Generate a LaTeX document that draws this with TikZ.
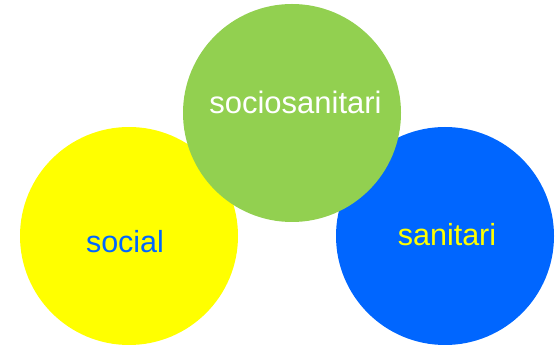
\documentclass[tikz,border=0pt]{standalone}
\usepackage{fontspec}
\setmainfont{Liberation Sans}

\definecolor{discyellow}{HTML}{FFFF00}
\definecolor{discgreen}{HTML}{92D050}
\definecolor{discblue}{HTML}{0066FF}

\begin{document}
\begin{tikzpicture}[x=1pt,y=1pt,
                    disc/.style={circle,minimum size=218pt,inner sep=0pt},
                    word/.style={anchor=base,font=\fontsize{30.5}{36}\selectfont}]
  \useasboundingbox (0,0) rectangle (559,347);

  \node (social)   [disc,fill=discyellow] at (129,111) {};
  \node (sanitari) [disc,fill=discblue]   at (445,111) {};
  \node (sociosan) [disc,fill=discgreen]  at (292,234) {};

  \node (socialtext)   [word,text=discblue]   at (125,94.3)  {social};
  \node (sanitaritext) [word,text=discyellow] at (447,101)   {sanitari};
  \node (sociosantext) [word,text=white,font=\fontsize{31}{36}\selectfont]
                       at (295.5,233.5) {sociosanitari};
\end{tikzpicture}
\end{document}
